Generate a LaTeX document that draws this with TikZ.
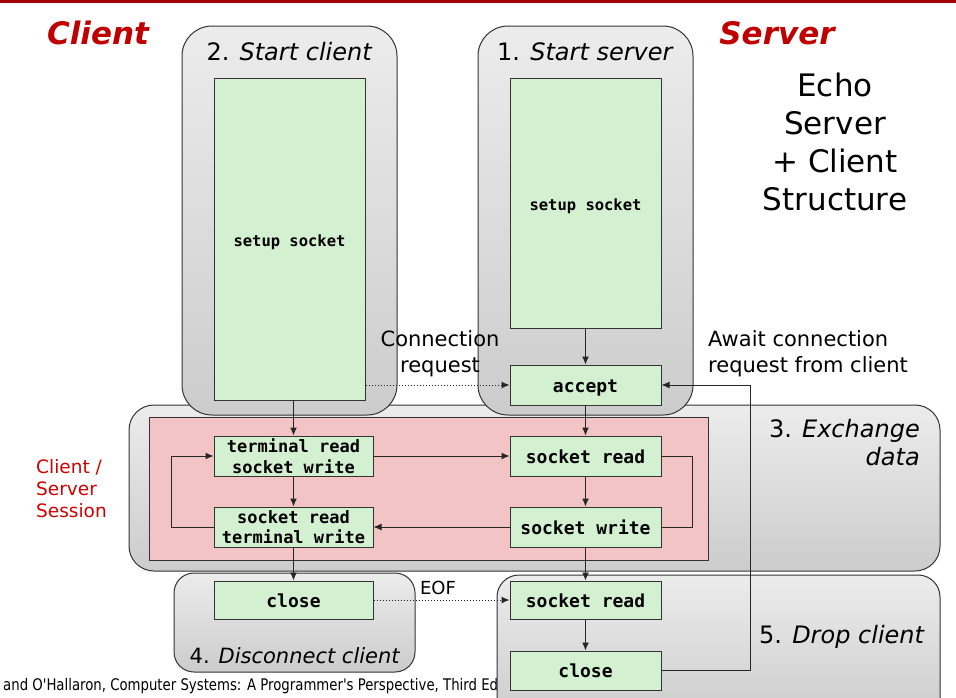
\documentclass[tikz,border=0pt]{standalone}
\usepackage{fontspec}
\setmainfont{DejaVu Sans}
\newfontfamily\monob{DejaVu Sans Mono}
\newfontfamily\narrowf{DejaVu Sans}[FakeStretch=0.83]
\usetikzlibrary{arrows.meta}
\definecolor{darkred}{HTML}{A00000}
\definecolor{titlered}{HTML}{C00000}
\definecolor{sessred}{HTML}{D00000}
\definecolor{gfill}{HTML}{D3F1D0}
\definecolor{pfill}{HTML}{F2C4C6}
\definecolor{edge}{HTML}{333333}
\tikzset{
  phase/.style={draw=edge, line width=1pt, top color=gray!15, bottom color=gray!40},
  gbox/.style={draw=edge, line width=1pt, fill=gfill, inner sep=0pt, align=center,
     font=\monob\bfseries\fontsize{18}{20}\selectfont},
  oneline/.style={text height=14pt, text depth=0pt},
  conn/.style={draw=black!85, line width=1pt, -{Latex[length=8pt,width=7pt]}},
  plain/.style={draw=black!85, line width=1pt},
  dconn/.style={draw=black!85, line width=1pt, dotted, -{Latex[length=8pt,width=7pt]}},
  ttl/.style={font=\fontsize{24}{28}\selectfont, inner sep=0pt},
  lbl/.style={font=\fontsize{21}{26}\selectfont, inner sep=0pt},
}
\begin{document}
\begin{tikzpicture}[x=1pt,y=-1pt]
\useasboundingbox (0,0) rectangle (956,697);
\clip (0,0) rectangle (956,697);
% top line
\draw[darkred, line width=3pt] (0,1) -- (956,1);
% headings
\node[font=\bfseries\itshape\fontsize{31}{36}\selectfont, text=titlered, inner sep=0pt] (hclient) at (98,33) {Client};
\node[font=\bfseries\itshape\fontsize{31}{36}\selectfont, text=titlered, inner sep=0pt] (hserver) at (777,33) {Server};
\node[font=\fontsize{31}{38}\selectfont, align=center, inner sep=0pt] (echo) at (835,142) {Echo\\Server\\+ Client\\Structure};
% phase boxes
\path[phase, rounded corners=25pt] (129,405) rectangle (940,571);
\path[phase, rounded corners=30pt] (182,26) rectangle (397,415);
\path[phase, rounded corners=30pt] (478,26) rectangle (693,415);
\node[ttl] (t2) at (289.5,52) {2. \textit{Start client}};
\node[ttl] (t1) at (585.5,52) {1. \textit{Start server}};
\node[ttl, align=right, anchor=north east] (t3) at (920,419) {3. \textit{Exchange}\\\textit{data}};
% session
\node[draw=edge, line width=1pt, fill=pfill, minimum width=559, minimum height=143, inner sep=0pt] (sess) at (428.5,488.5) {};
\node[font=\fontsize{18.5}{22}\selectfont, text=sessred, align=left, anchor=west, inner sep=0pt] (sesslbl) at (36,489) {Client /\\Server\\Session};
% disconnect
\path[phase, rounded corners=20pt] (174,573) rectangle (415,672);
\node[ttl, font=\fontsize{21}{26}\selectfont] (t4) at (295,656) {4. \textit{Disconnect client}};
% footer
\node[font=\narrowf\fontsize{16}{19}\selectfont, anchor=west, inner sep=0pt] (foot) at (3,686) {and O'Hallaron, Computer Systems: A Programmer's Perspective, Third Edition};
% drop client
\path[phase, rounded corners=22pt] (497,575) rectangle (940,720);
\node[ttl] (t5) at (842,637) {5. \textit{Drop client}};
% labels
\node[lbl, align=center] (connreq) at (440,354) {Connection\\request};
\node[lbl, align=left, anchor=west] (await) at (708,354) {Await connection\\request from client};
\node[font=\fontsize{18}{22}\selectfont, inner sep=0pt] (eof) at (438,588) {EOF};
% green boxes
\node[gbox, oneline, minimum width=151, minimum height=322, font=\monob\bfseries\fontsize{15.5}{18}\selectfont] (csetup) at (289.5,239) {setup socket};
\node[gbox, oneline, minimum width=151, minimum height=250, font=\monob\bfseries\fontsize{15.5}{18}\selectfont] (ssetup) at (585.5,203) {setup socket};
\node[gbox, oneline, minimum width=151, minimum height=40] (accept) at (585.5,385) {accept};
\node[gbox, minimum width=159, minimum height=40, font=\monob\bfseries\fontsize{17}{20.5}\selectfont] (trsw) at (293.5,456) {terminal read\\socket write};
\node[gbox, minimum width=159, minimum height=40, font=\monob\bfseries\fontsize{17}{20.5}\selectfont] (srtw) at (293.5,527) {socket read\\terminal write};
\node[gbox, oneline, minimum width=151, minimum height=40] (sread) at (585.5,456) {socket read};
\node[gbox, oneline, minimum width=151, minimum height=40] (swrite) at (585.5,527) {socket write};
\node[gbox, oneline, minimum width=159, minimum height=38] (cclose) at (293.5,600) {close};
\node[gbox, oneline, minimum width=151, minimum height=38] (sread2) at (585.5,600) {socket read};
\node[gbox, oneline, minimum width=151, minimum height=39] (sclose) at (585.5,670.5) {close};
% connectors
\draw[conn] (ssetup.south) -- (accept.north);
\draw[dconn] (csetup.east |- accept.west) -- (accept.west);
\draw[conn] (csetup.south -| trsw.north) -- (trsw.north);
\draw[conn] (accept.south) -- (sread.north);
\draw[conn] (trsw.east) -- (sread.west);
\draw[plain] (sread.east) -- ++(31,0) |- (swrite.east);
\draw[conn] (sread.south) -- (swrite.north);
\draw[conn] (swrite.west) -- (srtw.east);
\draw[conn] (srtw.west) -- ++(-42,0) |- (trsw.west);
\draw[conn] (trsw.south) -- (srtw.north);
\draw[conn] (srtw.south) -- (cclose.north);
\draw[conn] (swrite.south) -- (sread2.north);
\draw[dconn] (cclose.east) -- (sread2.west);
\draw[conn] (sread2.south) -- (sclose.north);
\draw[conn] (sclose.east) -- ++(89,0) |- (accept.east);
\end{tikzpicture}
\end{document}
